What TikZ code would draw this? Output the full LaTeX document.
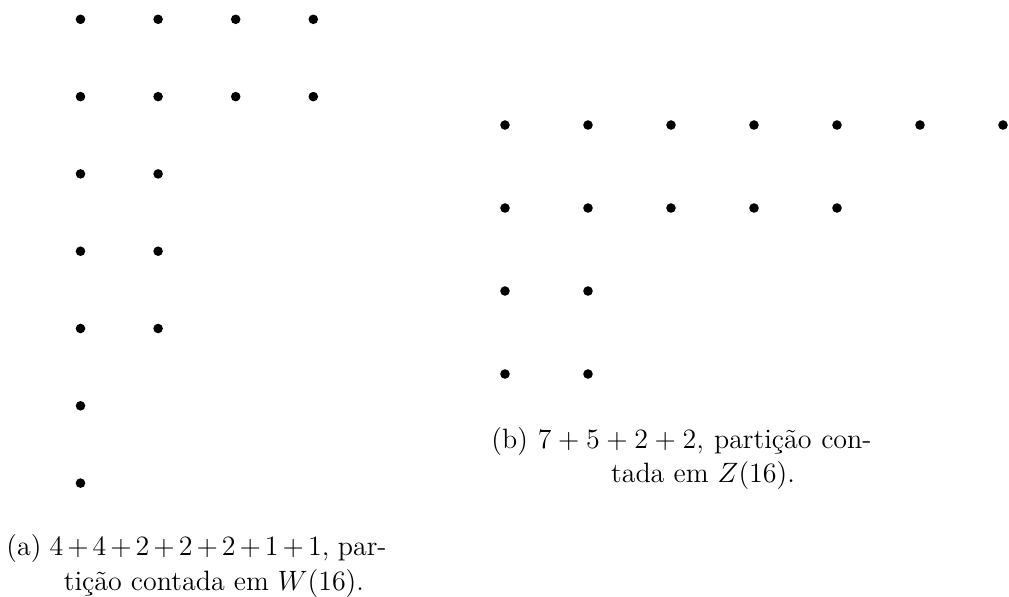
\documentclass[tikz,border=0pt]{standalone}
\begin{document}
\begin{tikzpicture}[x=0.42857pt,y=-0.42857pt,
  dot/.style={circle,fill=black,inner sep=0pt,minimum size=4.1pt},
  captxt/.style={inner sep=0pt,font=\fontsize{12}{15}\selectfont}]
\useasboundingbox (0,0) rectangle (1009,596);
% (a) Ferrers diagram 4+4+2+2+2+1+1
\foreach \r/\n in {1/4,2/4,3/2,4/2,5/2,6/1,7/1}{
  \foreach \c in {1,...,\n}{
    \node[dot] (a-\r-\c) at ({80.5+77.6*(\c-1)},{19.3+77.3*(\r-1)}) {};
  }
}
% (b) Ferrers diagram 7+5+2+2
\foreach \r/\n in {1/7,2/5,3/2,4/2}{
  \foreach \c in {1,...,\n}{
    \node[dot] (b-\r-\c) at ({505+83*(\c-1)},{125+83*(\r-1)}) {};
  }
}
\node[captxt,anchor=base west] (capa1) at (6,555) {\hbox to 162.9pt{(a) $4+4+2+2+2+1+1$, par-}};
\node[captxt,anchor=base] (capa2) at (214,590) {tição contada em $W(16)$.};
\node[captxt,anchor=base west] (capb1) at (491,448) {\hbox to 162.9pt{(b) $7+5+2+2$, partição con-}};
\node[captxt,anchor=base] (capb2) at (703,482) {tada em $Z(16)$.};
\end{tikzpicture}
\end{document}
